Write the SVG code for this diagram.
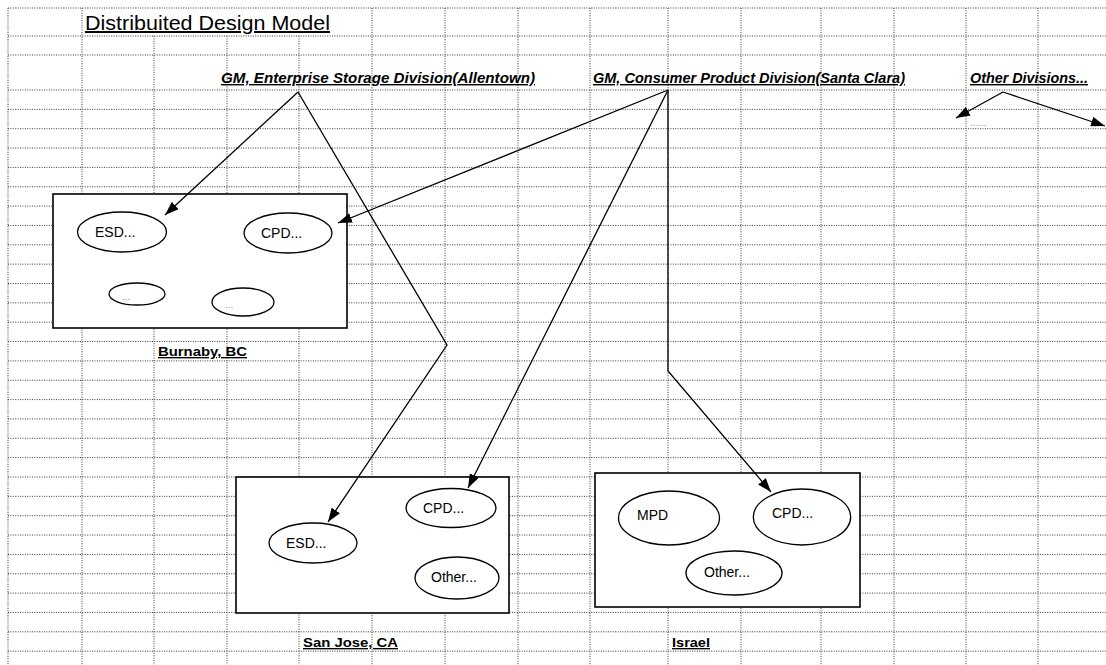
<svg xmlns="http://www.w3.org/2000/svg" width="1106" height="665" viewBox="0 0 1106 665">
<style>
.g{stroke:#3a3a3a;stroke-width:1;stroke-dasharray:1 1.4;fill:none}
.box{fill:#fff;stroke:#000;stroke-width:1.6}
.el{fill:#fff;stroke:#000;stroke-width:1.3}
.t{font-family:"Liberation Sans",Arial,sans-serif;font-size:14px;fill:#000}
.lbl{font-family:"Liberation Sans",Arial,sans-serif;font-size:14px;font-weight:bold;font-style:italic;text-decoration:underline;fill:#000}
.loc{font-family:"Liberation Sans",Arial,sans-serif;font-size:13.5px;font-weight:bold;text-decoration:underline;fill:#000}
.faint{font-family:"Liberation Sans",Arial,sans-serif;font-size:10px;fill:#999}
.c{stroke:#000;stroke-width:1.3;fill:none}
</style>
<defs>
<marker id="ah" viewBox="0 0 14 10" refX="14" refY="5" markerWidth="14" markerHeight="10" markerUnits="userSpaceOnUse" orient="auto">
<path d="M0,0 L14,5 L0,10 z" fill="#000"/>
</marker>
</defs>
<rect width="1106" height="665" fill="#fff"/>
<g id="grid" class="g">
<path d="M8,8H1106M8,36H1106M8,55H1106M8,90H1106"/>
<path d="M8,109.35H1106M8,128.7H1106M8,148.05H1106M8,167.4H1106M8,186.75H1106M8,206.1H1106M8,225.45H1106M8,244.8H1106M8,264.15H1106M8,283.5H1106M8,302.85H1106M8,322.2H1106M8,341.55H1106M8,360.9H1106M8,380.25H1106M8,399.6H1106M8,418.95H1106M8,438.3H1106M8,457.65H1106M8,477H1106M8,496.35H1106M8,515.7H1106M8,535.05H1106M8,554.4H1106M8,573.75H1106M8,593.1H1106M8,612.45H1106M8,631.8H1106M8,651.15H1106"/>
<path d="M8,8V665M82,8V665M154,36V665M227,36V665M299,36V665M372,8V665M445,8V665M518,8V665M590,8V665M668,8V665M741,8V665M821,8V665M894,8V665M966,8V665M1038,8V665"/>
</g>
<g id="title">
<text class="t" x="85" y="30" style="font-size:20px;text-decoration:underline" textLength="245" lengthAdjust="spacingAndGlyphs">Distribuited Design Model</text>
</g>
<g id="gm-esd">
<text class="lbl" x="221" y="83" textLength="314" lengthAdjust="spacingAndGlyphs">GM, Enterprise Storage Division(Allentown)</text>
</g>
<g id="gm-cpd">
<text class="lbl" x="593" y="83" textLength="312" lengthAdjust="spacingAndGlyphs">GM, Consumer Product Division(Santa Clara)</text>
</g>
<g id="other-div">
<text class="lbl" x="970" y="83" textLength="118" lengthAdjust="spacingAndGlyphs">Other Divisions...</text>
<text class="faint" x="970" y="126">......</text>
</g>
<g id="burnaby">
<rect class="box" x="53" y="194" width="294" height="134"/>
<ellipse class="el" cx="122" cy="232" rx="44.5" ry="20"/>
<text class="t" x="95" y="237">ESD...</text>
<ellipse class="el" cx="288" cy="233" rx="44" ry="20"/>
<text class="t" x="261" y="238">CPD...</text>
<ellipse class="el" cx="137" cy="294" rx="28" ry="11"/>
<text class="faint" x="122" y="300">...</text>
<ellipse class="el" cx="243" cy="302" rx="31" ry="14"/>
<text class="faint" x="225" y="308">...</text>
<text class="loc" x="158" y="356" textLength="89" lengthAdjust="spacingAndGlyphs">Burnaby, BC</text>
</g>
<g id="sanjose">
<rect class="box" x="236" y="477" width="273" height="136"/>
<ellipse class="el" cx="451" cy="508" rx="45" ry="19.5"/>
<text class="t" x="423" y="513">CPD...</text>
<ellipse class="el" cx="313" cy="543" rx="44" ry="20"/>
<text class="t" x="286" y="548">ESD...</text>
<ellipse class="el" cx="457" cy="578" rx="42" ry="21"/>
<text class="t" x="431" y="582">Other...</text>
<text class="loc" x="303" y="647" textLength="95" lengthAdjust="spacingAndGlyphs">San Jose, CA</text>
</g>
<g id="israel">
<rect class="box" x="595" y="473" width="265" height="134"/>
<ellipse class="el" cx="669" cy="518" rx="50.5" ry="27"/>
<text class="t" x="637" y="520">MPD</text>
<ellipse class="el" cx="802" cy="517" rx="48.7" ry="28"/>
<text class="t" x="772" y="518">CPD...</text>
<ellipse class="el" cx="734" cy="573" rx="48" ry="22"/>
<text class="t" x="704" y="577">Other...</text>
<text class="loc" x="672" y="647" textLength="38" lengthAdjust="spacingAndGlyphs">Israel</text>
</g>
<g id="connectors">
<path class="c" d="M298,92 L165,215" marker-end="url(#ah)"/>
<path class="c" d="M298,92 L447,345 L328,522" marker-end="url(#ah)"/>
<path class="c" d="M668,90 L338,223" marker-end="url(#ah)"/>
<path class="c" d="M668,90 L468,488" marker-end="url(#ah)"/>
<path class="c" d="M668,90 L668,371 L771,492" marker-end="url(#ah)"/>
<path class="c" d="M1003,92 L956,118" marker-end="url(#ah)"/>
<path class="c" d="M1003,92 L1105,126" marker-end="url(#ah)"/>
</g>
</svg>
